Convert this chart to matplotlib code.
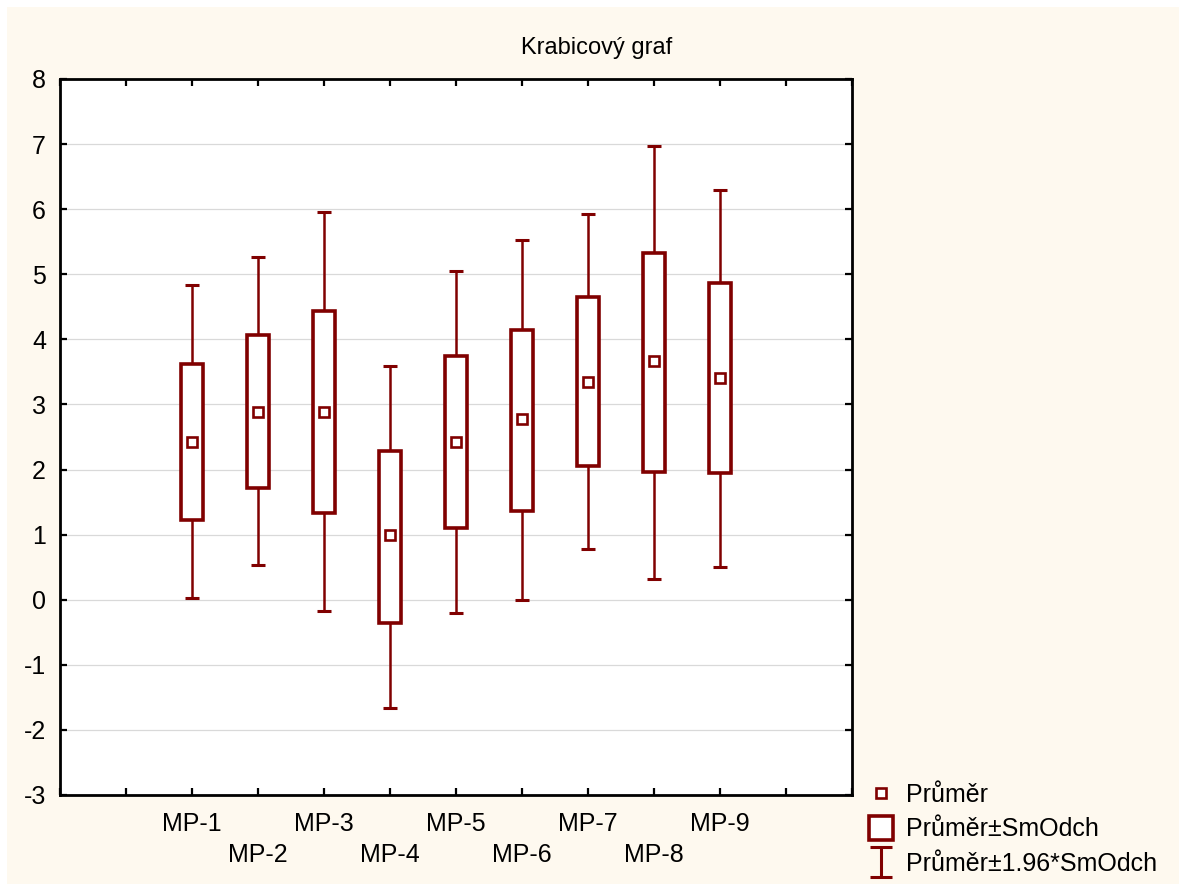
import numpy as np
import matplotlib
matplotlib.use('Agg')
import matplotlib.pyplot as plt
from matplotlib.lines import Line2D
from matplotlib.path import Path
from matplotlib.patches import Rectangle

plt.rcParams['font.family'] = ['Liberation Sans', 'DejaVu Sans']
plt.rcParams['axes.unicode_minus'] = False

# data
labels = ['MP-1', 'MP-2', 'MP-3', 'MP-4', 'MP-5', 'MP-6', 'MP-7', 'MP-8', 'MP-9']
means = [2.43, 2.89, 2.89, 0.99, 2.42, 2.78, 3.35, 3.66, 3.41]
box_lo = [1.23, 1.71, 1.34, -0.36, 1.10, 1.37, 2.05, 1.96, 1.95]
box_hi = [3.62, 4.07, 4.44, 2.29, 3.75, 4.15, 4.65, 5.32, 4.86]
whisk_lo = [0.03, 0.53, -0.18, -1.67, -0.20, 0.00, 0.78, 0.32, 0.50]
whisk_hi = [4.83, 5.26, 5.96, 3.59, 5.05, 5.52, 5.92, 6.97, 6.29]

red = '#800000'
cream = '#FEF9EF'
fs = 18

fig = plt.figure(figsize=(11.79, 8.84), dpi=100)
fig.patch.set_facecolor('white')
fig.patches.append(Rectangle((7 / 1179, 0), 1, 1 - 7 / 884, transform=fig.transFigure,
                             facecolor=cream, edgecolor='none', zorder=-10))

ax = fig.add_axes([60 / 1179, 1 - 795 / 884, 792 / 1179, 716 / 884])
ax.set_facecolor('white')

x = np.arange(2, 2 + len(labels))
box_lo = np.array(box_lo)
box_hi = np.array(box_hi)

# whiskers + caps
ax.vlines(x, whisk_lo, box_lo, color=red, lw=1.8, zorder=2)
ax.vlines(x, box_hi, whisk_hi, color=red, lw=1.8, zorder=2)
ax.hlines(whisk_lo, x - 0.1, x + 0.1, color=red, lw=2.2, zorder=2)
ax.hlines(whisk_hi, x - 0.1, x + 0.1, color=red, lw=2.2, zorder=2)

# boxes
ax.bar(x, box_hi - box_lo, bottom=box_lo, width=0.34, facecolor='white',
       edgecolor=red, linewidth=2.6, zorder=3)

# means
ax.plot(x, means, ls='none', marker='s', ms=7, mfc='white', mec=red, mew=1.9, zorder=4)

ax.set_xlim(0, 12)
ax.set_ylim(-3, 8)
ax.set_yticks(range(-3, 9))
ax.set_xticks(range(0, 13))
xlabs = [''] * 13
for i, lab in enumerate(labels):
    xlabs[i + 2] = lab if i % 2 == 0 else '\n' + lab
ax.set_xticklabels(xlabs, fontsize=fs, linespacing=1.4)
ax.tick_params(axis='y', labelsize=fs, pad=10)
ax.tick_params(axis='x', pad=12)
ax.tick_params(direction='in', length=5, width=1.6, top=True, right=True, color='black')

ax.yaxis.grid(True, color='#D9D9D9', lw=0.9)
ax.set_axisbelow(True)
for s in ax.spines.values():
    s.set_linewidth(2.0)

fig.text(597 / 1179, 1 - 48 / 884, 'Krabicový graf', fontsize=17, ha='center', va='center')

# legend
ibeam = Path([(-0.35, 0.5), (0.35, 0.5), (0, 0.5), (0, -0.5), (-0.35, -0.5), (0.35, -0.5)],
             [Path.MOVETO, Path.LINETO, Path.MOVETO, Path.LINETO, Path.MOVETO, Path.LINETO])
handles = [
    Line2D([], [], ls='none', marker='s', ms=7, mfc='white', mec=red, mew=1.9),
    Line2D([], [], ls='none', marker='s', ms=17, mfc='white', mec=red, mew=2.6),
    Line2D([], [], ls='none', marker=ibeam, ms=22, mec=red, mew=2.2),
]
fig.legend(handles, ['Průměr', 'Průměr±SmOdch', 'Průměr±1.96*SmOdch'],
           loc='upper left', bbox_to_anchor=(866 / 1179, 1 - 783 / 884),
           frameon=False, fontsize=fs, handlelength=1.2, handletextpad=0.4,
           labelspacing=0.42, borderpad=0, borderaxespad=0)

fig.savefig('out.png', dpi=100, facecolor=fig.get_facecolor())
